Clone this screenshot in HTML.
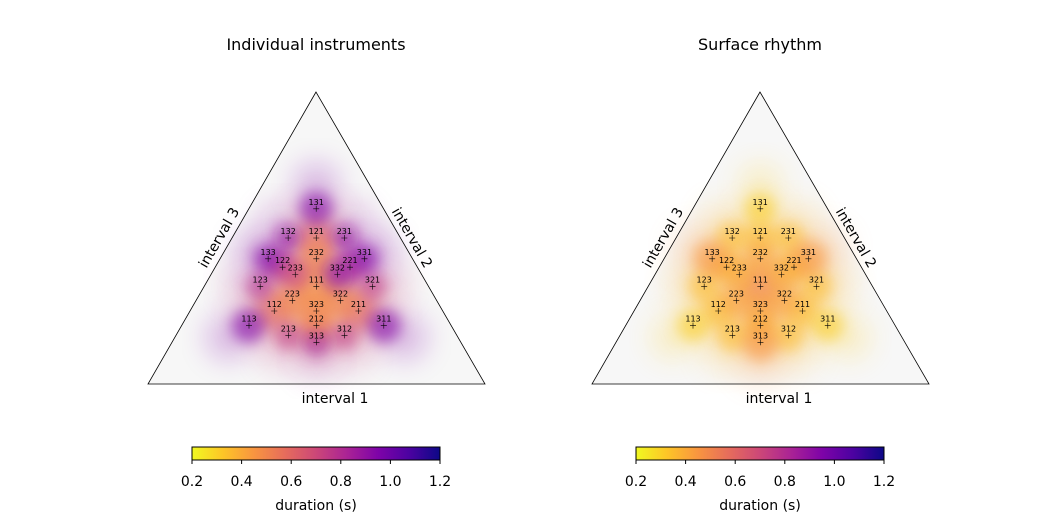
<!DOCTYPE html>
<html><head><meta charset="utf-8">
<style>
html,body{margin:0;padding:0;background:#fff;}
svg{display:block;font-family:"DejaVu Sans","Liberation Sans",sans-serif;}
</style></head>
<body>
<svg id="chart" width="1050" height="525" viewBox="0 0 1050 525" xmlns="http://www.w3.org/2000/svg">
<defs>
<filter id="blur" x="-50%" y="-50%" width="200%" height="200%"><feGaussianBlur stdDeviation="7"/></filter>
<filter id="blurbig" x="-50%" y="-50%" width="200%" height="200%"><feGaussianBlur stdDeviation="14"/></filter>
<linearGradient id="plasmaR" x1="0" x2="1" y1="0" y2="0">
<stop offset="0" stop-color="#f0f921"/><stop offset="0.125" stop-color="#fdc527"/>
<stop offset="0.25" stop-color="#f89540"/><stop offset="0.375" stop-color="#e66c5c"/>
<stop offset="0.5" stop-color="#cc4778"/><stop offset="0.625" stop-color="#aa2395"/>
<stop offset="0.75" stop-color="#7e03a8"/><stop offset="0.875" stop-color="#4c02a1"/>
<stop offset="1" stop-color="#0d0887"/>
</linearGradient>
</defs>
<g id="panels"></g>
</svg>
<script>
// data
const rhythms = ["111","112","121","211","113","131","311","122","212","221","123","132","213","231","312","321","133","313","331","223","232","322","233","323","332"];
const leftDuration  = [0.45,0.6,0.6,0.6,0.95,0.95,0.95,0.8,0.55,0.8,0.8,0.9,0.75,0.9,0.75,0.75,0.95,0.85,0.95,0.5,0.5,0.5,0.7,0.5,0.9];
const leftDensity   = [1.0,0.85,0.85,0.85,0.7,0.7,0.7,0.6,0.7,0.6,0.5,0.5,0.5,0.5,0.5,0.5,0.5,0.5,0.5,0.8,0.8,0.8,0.6,0.8,0.6];
const rightDuration = [0.5,0.35,0.35,0.35,0.3,0.3,0.3,0.38,0.38,0.38,0.35,0.35,0.35,0.35,0.35,0.35,0.45,0.45,0.45,0.42,0.42,0.42,0.4,0.42,0.4];
const rightDensity  = [1.0,0.7,0.7,0.7,0.6,0.6,0.6,0.6,0.6,0.6,0.6,0.6,0.6,0.6,0.6,0.6,0.8,0.8,0.8,0.7,0.7,0.7,0.6,0.7,0.6];
const cbTicks = [0.2,0.4,0.6,0.8,1.0,1.2];
const titles = ["Individual instruments","Surface rhythm"];

const NS="http://www.w3.org/2000/svg";
const stops=[[0,[240,249,33]],[0.125,[253,197,39]],[0.25,[248,149,64]],[0.375,[230,108,92]],[0.5,[204,71,120]],[0.625,[170,35,149]],[0.75,[126,3,168]],[0.875,[76,2,161]],[1,[13,8,135]]];
function cmap(v){let t=Math.max(0,Math.min(1,(v-0.2)/1.0));
 for(let i=1;i<stops.length;i++){if(t<=stops[i][0]){const a=stops[i-1],b=stops[i];const f=(t-a[0])/(b[0]-a[0]);
 const c=a[1].map((x,k)=>Math.round(x+(b[1][k]-x)*f));return `rgb(${c[0]},${c[1]},${c[2]})`;}}return "rgb(13,8,135)";}
function mk(tag,attrs,parent){const e=document.createElementNS(NS,tag);for(const k in attrs)e.setAttribute(k,attrs[k]);parent.appendChild(e);return e;}
const root=document.getElementById('panels');

function panel(ox,title,dur,dens,idx){
 const top=[ox+316,92],bl=[ox+148,384],br=[ox+485,384];
 const g=mk('g',{},root);
 
 
 function pos(r){const a=+r[0],b=+r[1],c=+r[2],s=a+b+c;
  return [(a*br[0]+b*top[0]+c*bl[0])/s,(a*br[1]+b*top[1]+c*bl[1])/s];}
 function outer(r,k){const p=pos(r),c=[ox+316,287];return [c[0]+(p[0]-c[0])*k,c[1]+(p[1]-c[1])*k];}
 const tri=mk('polygon',{points:`${top} ${bl} ${br}`,fill:'#f7f7f7',stroke:'none'},g);
 
 
 const cloud=mk('g',{},g);
 
 
 // broad halo pushed outward
 rhythms.forEach((r,i)=>{const p=outer(r,1.3);
  const c=mk('circle',{cx:p[0],cy:p[1],r:12+16*dens[i],fill:cmap(dur[i]),opacity:0.25,filter:'url(#blurbig)'},cloud);
  
  });
 rhythms.forEach((r,i)=>{const p=pos(r);
  const c=mk('circle',{cx:p[0],cy:p[1],r:8+13*dens[i],fill:cmap(dur[i]),opacity:0.6,filter:'url(#blur)'},cloud);
  
  });
 const edge=mk('polygon',{points:`${top} ${bl} ${br}`,fill:'none',stroke:'#000','stroke-width':0.8},g);
 
 
 rhythms.forEach((r,i)=>{const p=pos(r);
  const m=mk('path',{d:`M${p[0]-3},${p[1]}H${p[0]+3}M${p[0]},${p[1]-3}V${p[1]+3}`,stroke:'#000','stroke-width':0.6},g);
  
  
  const t=mk('text',{x:p[0],y:p[1]-4,'font-size':8,'text-anchor':'middle',fill:'#000'},g);t.textContent=r;
  
  });
 const tt=mk('text',{x:ox+316,y:50,'font-size':16,'text-anchor':'middle'},g);tt.textContent=title;
 
 
 const a1=mk('text',{x:ox+335,y:403,'font-size':14,'text-anchor':'middle'},g);a1.textContent='interval 1';
 
 
 const a3=mk('text',{x:0,y:0,'font-size':14,'text-anchor':'middle',transform:`translate(${ox+223},${240}) rotate(-60)`},g);a3.textContent='interval 3';
 
 
 const a2=mk('text',{x:0,y:0,'font-size':14,'text-anchor':'middle',transform:`translate(${ox+408},${240}) rotate(60)`},g);a2.textContent='interval 2';
 
 
 // colorbar
 const cx0=ox+192,cx1=ox+440,cy=447,ch=13;
 const cb=mk('g',{},g);
 
 
 mk('rect',{x:cx0,y:cy,width:cx1-cx0,height:ch,fill:'url(#plasmaR)',stroke:'#000','stroke-width':1},cb);
 cbTicks.forEach(v=>{const x=cx0+(v-0.2)/1.0*(cx1-cx0);
  mk('line',{x1:x,x2:x,y1:cy+ch,y2:cy+ch+4,stroke:'#000','stroke-width':1},cb);
  const t=mk('text',{x:x,y:486,'font-size':14,'text-anchor':'middle'},cb);t.textContent=v.toFixed(1);
  
  });
 const cl=mk('text',{x:(cx0+cx1)/2,y:510,'font-size':14,'text-anchor':'middle'},cb);cl.textContent='duration (s)';
 
 
}
panel(0,titles[0],leftDuration,leftDensity,0);
panel(444,titles[1],rightDuration,rightDensity,1);
</script>
</body></html>
